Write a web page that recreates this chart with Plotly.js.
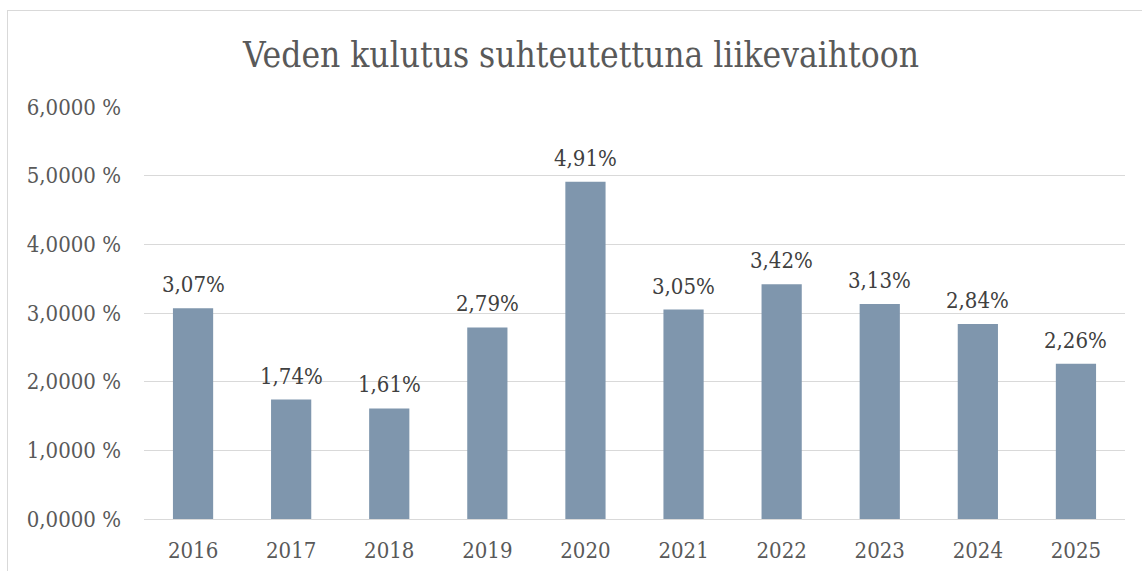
<!DOCTYPE html>
<html><head><meta charset="utf-8">
<script src="https://cdn.plot.ly/plotly-3.0.1.min.js"></script>
<style>
html,body{margin:0;padding:0;background:#fff;overflow:hidden}
#chart{width:1142px;height:571px}
#frame{position:absolute;left:7px;top:10px;width:1200px;height:600px;border:1px solid #d9d9d9;pointer-events:none}
</style></head>
<body>
<div id="chart"></div>
<div id="frame"></div>
<script>
const years = ['2016','2017','2018','2019','2020','2021','2022','2023','2024','2025'];
const values = [3.07, 1.74, 1.61, 2.79, 4.91, 3.05, 3.42, 3.13, 2.84, 2.26];
const labels = ['3,07%','1,74%','1,61%','2,79%','4,91%','3,05%','3,42%','3,13%','2,84%','2,26%'];
const tickVals = [0,1,2,3,4,5,6];
const tickText = ['0,0000 %','1,0000 %','2,0000 %','3,0000 %','4,0000 %','5,0000 %','6,0000 %'];

const font = 'DejaVu Serif Condensed, DejaVu Serif, serif';
const textColor = '#595959';

const trace = {
  type:'bar', x:years, y:values,
  marker:{color:'#7f96ad'},
  hoverinfo:'none'
};

const annotations = years.map((y,i)=>({
  x:i, y:values[i], text:labels[i], showarrow:false,
  xref:'x', yref:'y', yanchor:'bottom', yshift:9,
  font:{family:font, size:22, color:'#404040'}
}));

const layout = {
  width:1142, height:571,
  margin:{l:144, r:17, t:107, b:52},
  paper_bgcolor:'#fff', plot_bgcolor:'#fff',
  bargap:0.59,
  showlegend:false,
  title:{text:'Veden kulutus suhteutettuna liikevaihtoon', font:{family:font, size:35, color:textColor},
    x:581/1142, xanchor:'center', y:1-55/571, yanchor:'middle', yref:'container', xref:'container'},
  xaxis:{type:'category', tickfont:{family:font, size:22, color:textColor}, showgrid:false,
    showline:true, linecolor:'#d9d9d9', linewidth:1, ticks:'', ticklen:0, tickangle:0, ticklabelstandoff:12},
  yaxis:{range:[0,6], tickvals:tickVals, ticktext:tickText, tickfont:{family:font, size:22, color:textColor},
    showgrid:true, gridcolor:'#d9d9d9', gridwidth:1, zeroline:false, ticks:'', ticklabelstandoff:22, showline:false},
  annotations:annotations,
  font:{family:font, color:textColor}
};

Plotly.newPlot('chart',[trace],layout,{displayModeBar:false, staticPlot:true});
</script>
</body></html>
